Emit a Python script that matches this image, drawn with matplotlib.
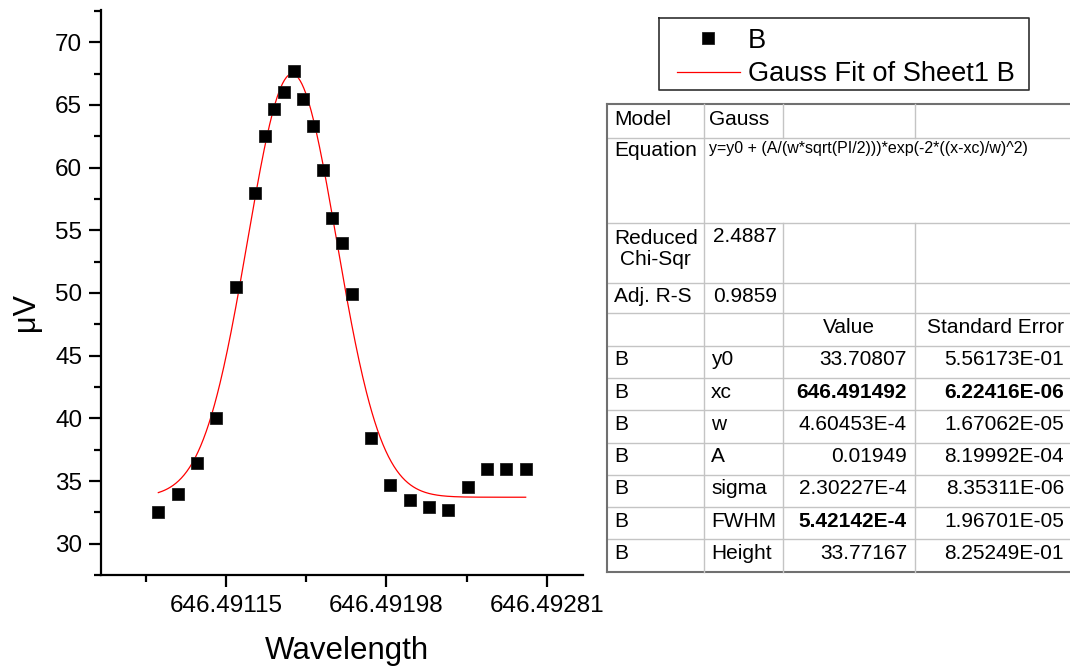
import numpy as np
import matplotlib
matplotlib.use("Agg")
import matplotlib.pyplot as plt
from matplotlib.lines import Line2D

plt.rcParams['font.family'] = ['Liberation Sans', 'DejaVu Sans']

# ---------------- data ----------------
wavelength = [646.4908, 646.4909, 646.4910, 646.4911, 646.4912, 646.4913,
              646.49135, 646.4914, 646.49145, 646.4915, 646.49155, 646.4916,
              646.49165, 646.4917, 646.49175, 646.4918, 646.4919, 646.4920,
              646.4921, 646.4922, 646.4923, 646.4924, 646.4925, 646.4926,
              646.4927]
signal = [32.55, 34.0, 36.45, 40.0, 50.5, 58.0, 62.5, 64.7, 66.0, 67.7,
          65.45, 63.3, 59.85, 56.0, 54.0, 49.9, 38.45, 34.66, 33.46, 32.93,
          32.66, 34.5, 35.95, 35.95, 35.95]

# Gauss fit parameters (from the fit table)
fit_y0 = 33.70807
fit_xc = 646.491492
fit_w = 4.60453e-4
fit_A = 0.01949

x_ticks = [646.49115, 646.49198, 646.49281]
x_tick_labels = ["646.49115", "646.49198", "646.49281"]
x_minor = [646.490735, 646.491565, 646.492395]
y_ticks = [30, 35, 40, 45, 50, 55, 60, 65, 70]

legend_labels = ["B", "Gauss Fit of Sheet1 B"]

table_model = "Gauss"
table_equation = "y=y0 + (A/(w*sqrt(PI/2)))*exp(-2*((x-xc)/w)^2)"
table_chi = "2.4887"
table_adjr = "0.9859"
param_names = ["y0", "xc", "w", "A", "sigma", "FWHM", "Height"]
param_values = ["33.70807", "646.491492", "4.60453E-4", "0.01949",
                "2.30227E-4", "5.42142E-4", "33.77167"]
param_errors = ["5.56173E-01", "6.22416E-06", "1.67062E-05", "8.19992E-04",
                "8.35311E-06", "1.96701E-05", "8.25249E-01"]
bold_values = {"xc", "FWHM"}
bold_errors = {"xc"}

# ---------------- figure ----------------
W, H = 1070, 666
fig = plt.figure(figsize=(W / 100, H / 100), dpi=100)
fig.patch.set_facecolor("white")

ax_l, ax_r, ax_t, ax_b = 100.7, 583.3, 10.3, 575.3
ax = fig.add_axes([ax_l / W, 1 - ax_b / H, (ax_r - ax_l) / W, (ax_b - ax_t) / H], zorder=2)
ax.patch.set_alpha(0)

xfit = np.linspace(min(wavelength), max(wavelength), 400)
yfit = fit_y0 + (fit_A / (fit_w * np.sqrt(np.pi / 2))) * np.exp(-2 * ((xfit - fit_xc) / fit_w) ** 2)

pts, = ax.plot(wavelength, signal, linestyle='none', marker='s', markersize=8.6,
               color='black', markeredgecolor='#202020', markeredgewidth=0.6, zorder=3)
fitline, = ax.plot(xfit, yfit, color='#ff0000', lw=0.9, zorder=2)

ax.set_xlim(646.490502, 646.492998)
ax.set_ylim(27.48, 72.55)
ax.set_xticks(x_ticks, labels=x_tick_labels)
ax.set_xticks(x_minor, minor=True)
ax.set_yticks(y_ticks)
ax.set_yticks(np.arange(27.5, 72.6, 2.5), minor=True)
ax.set_yticklabels([str(v) for v in y_ticks])

for s in ['top', 'right']:
    ax.spines[s].set_visible(False)
for s in ['left', 'bottom']:
    ax.spines[s].set_linewidth(1.6)
ax.tick_params(which='major', length=8.3, width=1.6, direction='out', labelsize=17.5, pad=5)
ax.tick_params(which='minor', length=4.8, width=1.6, direction='out')
ax.tick_params(axis='x', which='major', pad=6)

ax.set_xlabel("Wavelength", fontsize=22.5)
ax.set_ylabel("μV", fontsize=22)
ax.xaxis.set_label_coords((346.7 - ax_l) / (ax_r - ax_l), (ax_b - 636) / (ax_b - ax_t))
ax.yaxis.set_label_coords((41 - ax_l) / (ax_r - ax_l), (ax_b - 312) / (ax_b - ax_t))

leg = ax.legend([pts, fitline], legend_labels, loc='upper left',
                bbox_to_anchor=(677 / W, 1 - 28 / H), bbox_transform=fig.transFigure,
                frameon=False, fontsize=19.6, handlelength=2.3, handletextpad=0.3,
                borderpad=0, borderaxespad=0, labelspacing=0.27, numpoints=1)

# ---------------- overlay (legend frame + fit table) ----------------
ov = fig.add_axes([0, 0, 1, 1], zorder=1)
ov.set_xlim(0, W)
ov.set_ylim(H, 0)
ov.axis('off')

# legend frame
ov.add_line(Line2D([659.3, 1028.7, 1028.7, 659.3, 659.3], [18.3, 18.3, 90, 90, 18.3],
                   color='#303030', lw=1.2))

dark = '#707070'
light = '#c4c4c4'
tx0, tx1 = 607.3, W + 5
c1, c2, c3 = 704.3, 783.3, 915.3
t_top, t_bot = 104.3, 571.7
r_model, r_eq, r_chi, r_adj = 138.3, 223.3, 282.7, 313.3
rh = (t_bot - r_adj) / 8.0
rows = [r_adj + rh * k for k in range(9)]

# horizontal lines
for y in [r_model, r_eq, r_chi] + rows[:-1]:
    ov.add_line(Line2D([tx0, tx1], [y, y], color=light, lw=1.0))
ov.add_line(Line2D([tx0, tx1], [t_top, t_top], color=dark, lw=1.5))
ov.add_line(Line2D([tx0, tx1], [t_bot, t_bot], color=dark, lw=1.5))
ov.add_line(Line2D([tx0, tx0], [t_top, t_bot], color=dark, lw=1.5))
# vertical lines
ov.add_line(Line2D([c1, c1], [t_top, t_bot], color=light, lw=1.0))
for cx in (c2, c3):
    ov.add_line(Line2D([cx, cx], [t_top, r_model], color=light, lw=1.0))
    ov.add_line(Line2D([cx, cx], [r_eq, t_bot], color=light, lw=1.0))

fs = 15
lx, lx2 = 614, 709.5
vx, ex = 907, 1064
ov.text(lx, 119.5, "Model", fontsize=fs, va='center', ha='left')
ov.text(lx2, 119.5, table_model, fontsize=fs, va='center', ha='left')
ov.text(lx, 151, "Equation", fontsize=fs, va='center', ha='left')
ov.text(lx2 - 0.5, 148.5, table_equation, fontsize=11.5, va='center', ha='left')
ov.text((tx0 + c1) / 2, 249, "Reduced\nChi-Sqr", fontsize=fs, va='center', ha='center',
        multialignment='center', linespacing=1.17)
ov.text(713, 237, table_chi, fontsize=fs, va='center', ha='left')
ov.text(lx, 296, "Adj. R-S", fontsize=fs, va='center', ha='left')
ov.text(713, 296, table_adjr, fontsize=fs, va='center', ha='left')
yc = (rows[0] + rows[1]) / 2 - 2
ov.text((c2 + c3) / 2, yc, "Value", fontsize=fs, va='center', ha='center')
ov.text(ex, yc, "Standard Error", fontsize=fs, va='center', ha='right')
for i, name in enumerate(param_names):
    yc = (rows[i + 1] + rows[i + 2]) / 2 - 2
    ov.text(lx, yc, "B", fontsize=fs, va='center', ha='left')
    ov.text(711, yc, name, fontsize=fs, va='center', ha='left')
    ov.text(vx, yc, param_values[i], fontsize=fs, va='center', ha='right',
            fontweight='bold' if name in bold_values else 'normal')
    ov.text(ex, yc, param_errors[i], fontsize=fs, va='center', ha='right',
            fontweight='bold' if name in bold_errors else 'normal')

fig.savefig("out.png", dpi=100)
